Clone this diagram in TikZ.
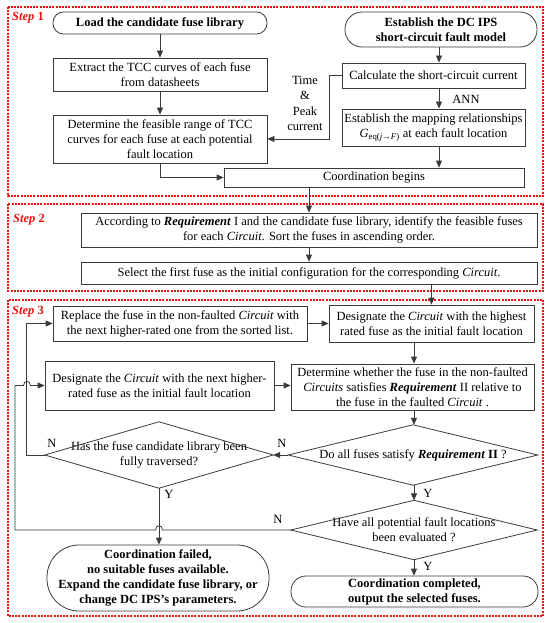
\documentclass[tikz,border=0pt]{standalone}
\usepackage{fontspec}
\setmainfont{Liberation Serif}
\usetikzlibrary{arrows.meta}
\definecolor{linegray}{HTML}{3A3A3A}
\definecolor{stepred}{HTML}{F01010}
\begin{document}
\begin{tikzpicture}[x=1pt,y=-1pt,
  every node/.style={font=\fontsize{12.5}{15}\selectfont, align=center, inner sep=1pt, text=black},
  procbox/.style n args={2}{draw=linegray, line width=0.8pt, minimum width=#1pt, minimum height=#2pt},
  termbox/.style n args={3}{draw=linegray, line width=0.8pt, minimum width=#1pt, minimum height=#2pt, rounded corners=#3pt, font=\fontsize{12.5}{15}\selectfont\bfseries},
  decision/.style n args={2}{minimum width=#1pt, minimum height=#2pt},
  conn/.style={draw=linegray, line width=0.8pt},
  arr/.style={conn, -{Triangle[length=7pt,width=6pt]}},
  stepframe/.style={draw=stepred, line width=1.4pt, dash pattern=on 2pt off 1.2pt},
  steplabel/.style={anchor=west, text=stepred, font=\fontsize{12.5}{15}\selectfont\bfseries\itshape},
  lbl/.style={font=\fontsize{12.5}{15}\selectfont}
]
\useasboundingbox (0,0) rectangle (550,623);

% step frames
\draw[stepframe] (8,7) rectangle (543,196);
\draw[stepframe] (8,204) rectangle (543,291);
\draw[stepframe] (8,300) rectangle (543,616);
\node[steplabel] (s1) at (11,18) {Step \upshape 1};
\node[steplabel] (s2) at (12,220) {Step \upshape 2};
\node[steplabel] (s3) at (11,312) {Step \upshape 3};

% Step 1
\node[termbox={214}{22}{10.5}] (load) at (160,23) {Load the candidate fuse library};
\node[procbox={214}{33}] (extract) at (160,74.5) {Extract the TCC curves of each fuse\\from datasheets};
\node[procbox={214}{48}] (feas) at (160,139) {Determine the feasible range of TCC\\curves for each fuse at each potential\\fault location};
\node[termbox={192}{35}{17}] (dcips) at (441,29.5) {Establish the DC IPS\\short-circuit fault model};
\node[procbox={183}{25}] (calc) at (433.5,75.5) {Calculate the short-circuit current};
\node[procbox={183}{37}] (map) at (433.5,127.5) {Establish the mapping relationships\\\textit{G}\textsubscript{eq(\textit{j}→\textit{F})} at each fault location};
\node[procbox={300}{19}] (coord) at (374,177.5) {Coordination begins};
\coordinate (cx) at (439,0);
\node[lbl, font=\fontsize{12.5}{15.5}\selectfont] (tpc) at (305,103.5) {Time\\\&\\Peak\\current};
\node[lbl] (ann) at (466,99) {ANN};

\draw[arr] (load) -- (extract);
\draw[arr] (extract) -- (feas);
\draw[arr] (feas.south) |- (coord.west);
\draw[arr] (dcips.south -| cx) -- (calc.north -| cx);
\draw[arr] (calc.south -| cx) -- (map.north -| cx);
\draw[arr] (map.south -| cx) -- (coord.north -| cx);
\draw[arr] (calc.west) -- ++(-12,0) |- (feas.east);

% Step 2
\node[procbox={456}{34}] (req) at (309,230) {According to \textbf{\textit{Requirement}} I and the candidate fuse library, identify the feasible fuses\\for each \textit{Circuit}. Sort the fuses in ascending order.};
\node[procbox={456}{22}] (sel) at (309,273) {Select the first fuse as the initial configuration for the corresponding \textit{Circuit}.};
\draw[arr] (coord.south -| req.north) -- (req.north);
\draw[arr] (req) -- (sel);

% Step 3
\node[procbox={254}{35}] (replace) at (180,323.5) {Replace the fuse in the non-faulted \textit{Circuit} with\\the next higher-rated one from the sorted list.};
\node[procbox={205}{37}] (high) at (431.5,323.5) {Designate the \textit{Circuit} with the highest\\rated fuse as the initial fault location};
\node[procbox={229}{49}] (next) at (159.5,385.5) {Designate the \textit{Circuit} with the next higher-\\rated fuse as the initial fault location};
\node[procbox={243}{46}] (det) at (412.5,387) {Determine whether the fuse in the non-faulted\\\textit{Circuits} satisfies \textbf{\textit{Requirement}} II relative to\\the fuse in the faulted \textit{Circuit} .};
\node[decision={249}{60}] (doall) at (413,455) {Do all fuses satisfy \textbf{\textit{Requirement}} \textbf{II} ?};
\node[decision={228}{66}] (has) at (159,455) {Has the fuse candidate library been\\fully traversed?};
\node[decision={246}{59}] (haveall) at (414,530) {Have all potential fault locations\\been evaluated ?};
\node[termbox={247}{31}{15}] (done) at (414.5,591.5) {Coordination completed,\\output the selected fuses.};
\node[termbox={222}{66}{32}] (fail) at (158,578) {Coordination failed,\\no suitable fuses available.\\Expand the candidate fuse library, or\\change DC IPS's parameters.};
\foreach \d in {doall,has,haveall}
  \draw[conn] (\d.west) -- (\d.north) -- (\d.east) -- (\d.south) -- cycle;
\coordinate (col) at (414,0);

\draw[arr] (sel.south -| high.north) -- (high.north);
\draw[arr] (replace.east) -- (replace.east -| high.west);
\draw[arr] (high.south -| col) -- (det.north -| col);
\draw[arr] (next.east) -- (next.east -| det.west);
\draw[arr] (det.south -| col) -- (doall.north -| col);
\draw[arr] (doall.west) -- (has.east);
\draw[arr] (has.west) -- ++(-18,0) |- (replace.west);
\draw[arr] (doall.south -| col) -- (haveall.north -| col);
\draw[arr] (haveall.south -| col) -- (done.north -| col);
\draw[arr] (has.south) -- (has.south |- fail.north);
\draw[arr] (haveall.west) -- (162.5,530) .. controls (162.5,524.5) and (155.5,524.5) .. (155.5,530)
  -- (15,530) -- (15,385.5) -- (23.5,385.5) .. controls (23.5,380) and (30.5,380) .. (30.5,385.5) -- (next.west);

\node[lbl] (nhas) at (52,443) {N};
\node[lbl] (ndo) at (282,443) {N};
\node[lbl] (nhave) at (278,519) {N};
\node[lbl] (yhas) at (169,494) {Y};
\node[lbl] (ydo) at (428,493) {Y};
\node[lbl] (yhave) at (428,566) {Y};
\end{tikzpicture}
\end{document}
